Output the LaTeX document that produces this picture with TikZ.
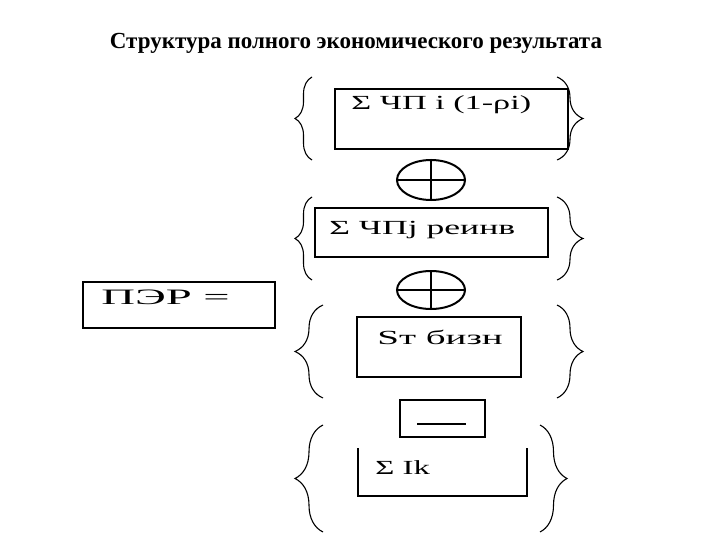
\documentclass[tikz,border=0pt]{standalone}
\usepackage{fontspec}
\setmainfont{Liberation Serif}
\usetikzlibrary{shapes.geometric,decorations.pathreplacing}
\tikzset{
  termbox/.style={draw,line width=1.3pt,inner sep=0pt},
  termtext/.style={anchor=west,inner sep=0pt,font=\fontsize{20}{24}\selectfont},
  opsign/.style={draw,ellipse,line width=2pt,inner sep=0pt,minimum width=68,minimum height=40},
  brc/.style={decorate,decoration={brace,amplitude=#1},line width=1.1pt},
}

\begin{document}
\begin{tikzpicture}[x=1pt,y=-1pt]
  \useasboundingbox (0,0) rectangle (720,540);
  \node[font=\fontsize{23}{26}\selectfont\bfseries] (title) at (356,43) {Структура полного экономического результата};

  % left part
  \node[termbox,minimum width=192,minimum height=46] (per) at (179,305) {};
  \node[termtext,font=\fontsize{22}{26}\selectfont,xscale=2.12] (pertext) at (101,297) {ПЭР =};

  % terms
  \node[termbox,minimum width=233,minimum height=60] (chpi) at (451.5,119) {};
  \node[termtext,xscale=1.71] (chpitext) at (351,105) {Σ ЧП i (1-ρi)};
  \node[opsign] (plusA) at (431,180) {};
  \draw[line width=2pt] (plusA.north) -- (plusA.south) (plusA.west) -- (plusA.east);

  \node[termbox,minimum width=233,minimum height=49] (chpj) at (431.5,232.5) {};
  \node[termtext,xscale=1.78] (chpjtext) at (329,230) {Σ ЧПj реинв};
  \node[opsign,minimum height=38] (plusB) at (431,290) {};
  \draw[line width=2pt] (plusB.north) -- (plusB.south) (plusB.west) -- (plusB.east);

  \node[termbox,minimum width=164,minimum height=60] (sbiz) at (439,347) {};
  \node[termtext,xscale=1.95] (sbiztext) at (377,337) {Sт бизн};

  \node[termbox,minimum width=85,minimum height=37] (minus) at (442.5,418.5) {};
  \draw[line width=1.5pt] ([xshift=18]minus.west |- 0,424) -- ([xshift=-20]minus.east |- 0,424);

  \coordinate (ikA) at (358,448);
  \coordinate (ikB) at (527,448);
  \draw[line width=1.3pt] (ikA) |- (ikB |- 0,496) -- (ikB);
  \node[termtext,xscale=1.64] (iktext) at (375,468) {Σ Ik};

  % braces
  \draw[brc=17] (312,160) -- (312,77);
  \draw[brc=26] (557,77) -- (557,160);
  \draw[brc=17] (312,280) -- (312,197);
  \draw[brc=26] (557,197) -- (557,280);
  \draw[brc=28] (323,398) -- (323,305);
  \draw[brc=26] (557,305) -- (557,398);
  \draw[brc=28] (323,532) -- (323,425);
  \draw[brc=27] (540,425) -- (540,532);
\end{tikzpicture}
\end{document}
